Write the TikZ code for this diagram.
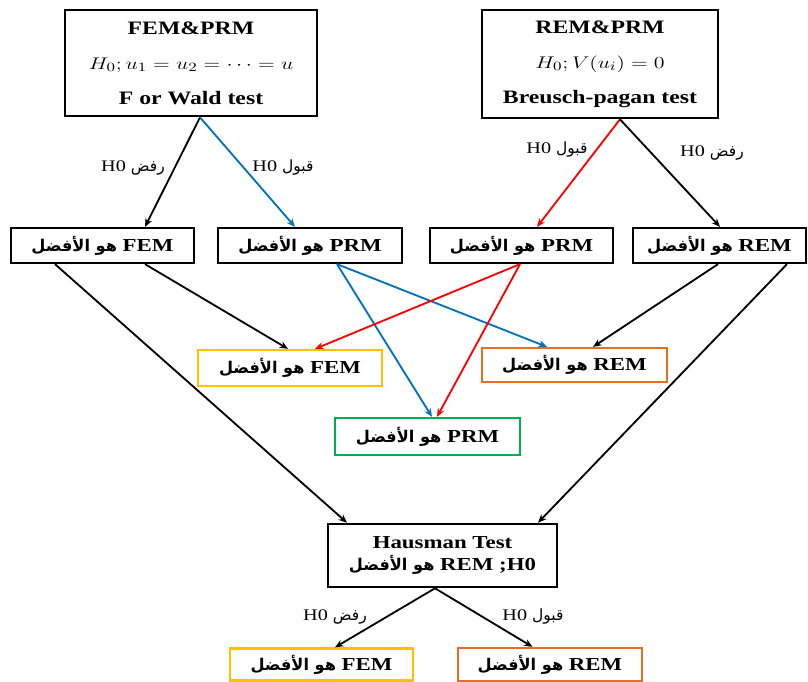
\documentclass[tikz,border=0pt]{standalone}
\usepackage{fontspec}
\setmainfont[FakeStretch=1.25]{Liberation Serif}
\newfontfamily\arabicfont[Script=Arabic]{DejaVu Sans}
\TeXXeTstate=1
\usepackage{graphicx}
\usepackage{tikz}
\usetikzlibrary{positioning}
\usetikzlibrary{arrows.meta}

\definecolor{arrblue}{RGB}{0,112,192}
\definecolor{boxyellow}{RGB}{255,192,0}
\definecolor{boxorange}{RGB}{228,112,32}
\definecolor{boxgreen}{RGB}{0,176,80}

\newcommand{\ux}{0.025cm}
\newcommand{\bestar}{{\arabicfont\bfseries\fontsize{11.5}{13}\selectfont\beginR هو الأفضل\endR}}
\newcommand{\rafdh}{H0 {\arabicfont\fontsize{11}{12}\selectfont\beginR رفض\endR}}
\newcommand{\qabulh}{H0 {\arabicfont\fontsize{11}{12}\selectfont\beginR قبول\endR}}
\newcommand{\widemath}[1]{{\fontsize{13}{25}\selectfont\scalebox{1.3}[1]{$#1$}}}

\begin{document}
\begin{tikzpicture}
                [x=0.025cm, y=-0.025cm,
                 box/.style = {draw, line width=1.6pt, inner sep=1pt, font=\bfseries\fontsize{13}{15}\selectfont},
                 testbox/.style = {box, line width=1.9pt, align=center, font=\bfseries\fontsize{13.5}{25}\selectfont},
                 arr/.style = {-{Stealth[length=6pt, width=5pt]}, line width=1.3pt},
                 lbl/.style = {font=\fontsize{11.5}{13}\selectfont, inner sep=1pt}]
                \useasboundingbox (0,0) rectangle (808,682);
                % test boxes on top
                \node[testbox, minimum width=6.3cm, minimum height=2.65cm] (fp) at (191,63)
                    {FEM\&PRM\\\widemath{H_0; u_1=u_2=\cdots=u}\\F or Wald test};
                \node[testbox, minimum width=5.9cm, minimum height=2.7cm] (rp) at (600,64)
                    {REM\&PRM\\\widemath{H_0; V(u_i)=0}\\Breusch-pagan test};
                % first decision
                \node[box, minimum width=4.575cm, minimum height=0.875cm] (femA) at (102.5,245.5) {\bestar{} FEM};
                \node[box, minimum width=4.6cm, minimum height=0.875cm] (prmA) at (310,245.5) {\bestar{} PRM};
                \node[box, minimum width=4.575cm, minimum height=0.875cm] (prmB) at (521.5,245.5) {\bestar{} PRM};
                \node[box, minimum width=4.325cm, minimum height=0.875cm] (remA) at (719.5,245.5) {\bestar{} REM};
                % combined results
                \node[box, draw=boxyellow, minimum width=4.6cm, minimum height=0.9cm] (femC) at (290,368) {\bestar{} FEM};
                \node[box, draw=boxorange, minimum width=4.625cm, minimum height=0.85cm] (remC) at (574.5,365) {\bestar{} REM};
                \node[box, draw=boxgreen, minimum width=4.625cm, minimum height=0.925cm] (prmC) at (427.5,436.5) {\bestar{} PRM};
                % hausman
                \node[box, line width=1.8pt, align=center, minimum width=5.725cm, minimum height=1.575cm,
                      font=\bfseries\fontsize{13}{15}\selectfont] (haus) at (442.5,555.5)
                    {Hausman Test\\\bestar{} REM ;H0};
                \node[box, draw=boxyellow, minimum width=4.575cm, minimum height=0.8cm] (femD) at (321.5,664.5) {\bestar{} FEM};
                \node[box, draw=boxorange, minimum width=4.6cm, minimum height=0.825cm] (remD) at (550,664.5) {\bestar{} REM};
                % labels on arrows
                \node[lbl] (l1) at (133,168) {\rafdh};
                \node[lbl] (l2) at (283,168) {\qabulh};
                \node[lbl] (l3) at (557,150) {\qabulh};
                \node[lbl] (l4) at (712,153) {\rafdh};
                \node[lbl] (l5) at (335,617) {\rafdh};
                \node[lbl] (l6) at (533,617) {\qabulh};
                % Arrows
                \draw[arr] ([xshift=9*\ux]fp.south) -- ([xshift=42.5*\ux]femA.north);
                \draw[arr, arrblue] ([xshift=9*\ux]fp.south) -- ([xshift=-15*\ux]prmA.north);
                \draw[arr, red] ([xshift=20*\ux]rp.south) -- ([xshift=15.5*\ux]prmB.north);
                \draw[arr] ([xshift=20*\ux]rp.south) -- ([xshift=0.5*\ux]remA.north);
                \draw[arr] ([xshift=42.5*\ux]femA.south) -- ([xshift=-2*\ux]femC.north);
                \draw[arr] ([xshift=-47.5*\ux]femA.south) -- ([xshift=-95.5*\ux]haus.north);
                \draw[arr, arrblue] ([xshift=27*\ux]prmA.south) -- ([xshift=4.5*\ux]prmC.north);
                \draw[arr, arrblue] ([xshift=27*\ux]prmA.south) -- ([xshift=-27.5*\ux]remC.north);
                \draw[arr, red] ([xshift=-1.5*\ux]prmB.south) -- ([xshift=25*\ux]femC.north);
                \draw[arr, red] ([xshift=-1.5*\ux]prmB.south) -- ([xshift=9.5*\ux]prmC.north);
                \draw[arr] ([xshift=-1.5*\ux]remA.south) -- ([xshift=18.5*\ux]remC.north);
                \draw[arr] ([xshift=67.5*\ux]remA.south) -- ([xshift=95.5*\ux]haus.north);
                \draw[arr] ([xshift=-7.5*\ux]haus.south) -- ([xshift=13.5*\ux]femD.north);
                \draw[arr] ([xshift=-7.5*\ux]haus.south) -- ([xshift=-17.5*\ux]remD.north);
\end{tikzpicture}
\end{document}
